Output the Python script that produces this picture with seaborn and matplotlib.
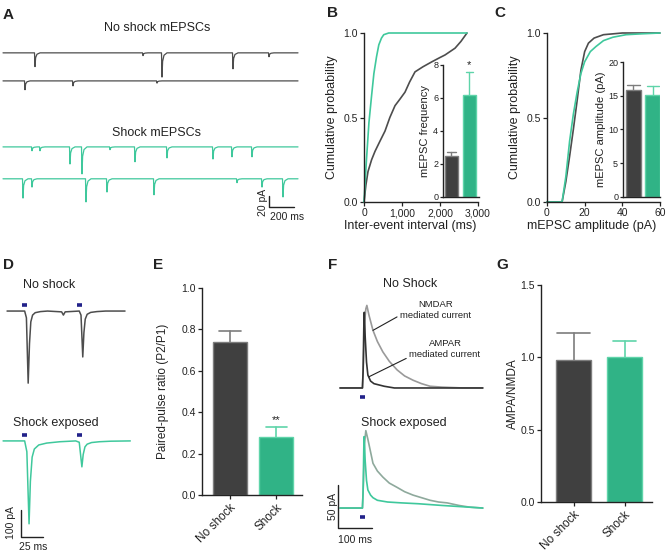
import numpy as np
import pandas as pd
import seaborn as sns
import matplotlib.pyplot as plt

W, H = 666, 555

# ---------------- data ----------------
# A: mEPSC events, time (ms) and amplitude (pA) per sweep
ns1_t = [256, 1120, 1272, 1840, 2128]
ns1_amp = [25, 5, 44, 29, 7]
ns2_t = [176, 560, 1232]
ns2_amp = [16, 9, 4]
sh1_t = [232, 296, 536, 632, 856, 1056, 1312, 1680, 1832, 1992]
sh1_amp = [7, 7, 31, 49, 5, 27, 20, 22, 18, 18]
sh2_t = [160, 232, 664, 832, 1208, 1872, 2072, 2240]
sh2_amp = [35, 15, 42, 24, 29, 7, 15, 33]
sweep_ms = 2360
# event waveform (ms offset, fraction of peak)
kern_t = [-4, 0, 5, 16, 40]
kern_f = [0, 1, 0.35, 0.1, 0]

# B: cumulative inter-event interval
iei_ns_ms = [0, 50, 105, 200, 290, 420, 553, 680, 816, 950, 1079, 1200, 1342,
             1550, 1789, 2000, 2132, 2395, 2550, 2710]
iei_ns_p = [0, 0.1, 0.18, 0.25, 0.3, 0.36, 0.42, 0.5, 0.57, 0.61, 0.65, 0.71,
            0.77, 0.8, 0.83, 0.855, 0.87, 0.91, 0.95, 1.0]
iei_sh_ms = [0, 65, 130, 200, 260, 330, 390, 460, 520, 650, 2710]
iei_sh_p = [0, 0.25, 0.47, 0.63, 0.76, 0.86, 0.93, 0.97, 0.99, 1.0, 1.0]
freq_mean = [2.5, 6.2]
freq_err = [0.25, 1.4]

# C: cumulative amplitude
amp_ns_pa = [0, 8, 10, 12, 14, 16, 18, 20, 22, 25, 30, 40, 60]
amp_ns_p = [0, 0, 0.12, 0.27, 0.43, 0.6, 0.78, 0.89, 0.94, 0.97, 0.99, 1.0, 1.0]
amp_sh_pa = [0, 8, 10, 12, 14, 16, 18, 20, 23, 26, 30, 35, 42, 50, 60]
amp_sh_p = [0, 0, 0.15, 0.36, 0.52, 0.65, 0.76, 0.83, 0.89, 0.92, 0.955,
            0.975, 0.99, 0.995, 1.0]
amp_mean = [15.8, 15.1]
amp_err = [0.8, 1.3]

# D: paired-pulse traces (ms, pA)
pp_ns_t = [0, 20, 22, 24, 25.5, 27, 29, 32, 38, 46, 62, 64, 66, 82,
           84, 86, 87.3, 88.8, 91, 95, 102, 112, 134]
pp_ns_i = [0, 0, -25, -267, -120, -40, -15, -6, -2, 0, -3, -15, -3, 0,
           -15, -170, -80, -30, -12, -5, -2, 0, 0]
pp_sh_t = [-4.5, 20, 22.5, 25, 26.5, 28.5, 31, 36, 45, 60, 78, 82, 85,
           86.5, 88.5, 91, 96, 105, 118, 140]
pp_sh_i = [0, 0, -40, -307, -150, -60, -30, -15, -8, -3, 0, -5,
           -96, -50, -22, -12, -6, -3, -1, 0]
pp_stim_on = [17, 80]
pp_stim_off = [23, 85]

# E: paired-pulse ratio
groups = ["No shock", "Shock"]
ppr_mean = [0.74, 0.28]
ppr_err = [0.05, 0.05]

# F: AMPAR / NMDAR currents (ms, pA)
nmda_ns_t = [0, 66, 69, 72, 76, 79, 85, 97, 110, 126, 145, 168, 190, 215, 240,
             265, 300, 362, 420]
nmda_ns_i = [0, 0, 30, 75, 92, 96, 85, 67, 54, 42, 31, 21, 14, 9, 5, 2, 1, 0, 0]
ampa_ns_t = [0, 66, 68, 70, 71.5, 74, 78, 82, 90, 100, 130, 160, 420]
ampa_ns_i = [0, 0, 20, 70, 88, 60, 30, 15, 8, 5, 2, 0, 0]
nmda_sh_t = [0, 66, 69, 72, 76, 82, 97, 110, 126, 145, 168, 190, 215, 240, 265,
             290, 315, 350, 382, 420]
nmda_sh_i = [0, 0, 30, 75, 90, 80, 52, 43, 36, 29, 24, 19, 15, 12, 9, 7, 6, 3,
             1, 0]
ampa_sh_t = [0, 66, 68, 70, 71, 74, 78, 82, 90, 97, 110, 140, 180, 230, 300,
             380, 420]
ampa_sh_i = [0, 0, 20, 70, 83, 55, 32, 21, 15, 12, 9, 7, 6, 5, 3, 1, 0]
f_stim = [59, 74]

# G: AMPA/NMDA ratio
an_mean = [0.98, 1.0]
an_err = [0.19, 0.11]

# ---------------- style ----------------
DARK = "#404040"
DARK_EDGE = "#7d7d7d"
GREEN = "#30b386"
GREEN_EDGE = "#5fd4a9"
TRACE_GRAY = "#4d4d4d"
TRACE_GREEN = "#3fc89c"
NMDA_GRAY = "#9a9a9a"
NMDA_SHOCK = "#8ea99c"
STIM = "#22228a"
INK = "#222222"

sns.set_theme(style="ticks")
plt.rcParams["font.family"] = ["Liberation Sans", "DejaVu Sans"]
plt.rcParams["axes.labelcolor"] = INK
plt.rcParams["xtick.color"] = INK
plt.rcParams["ytick.color"] = INK

fig = plt.figure(figsize=(W / 100, H / 100), dpi=100)


def px_box(l, t, r, b):
    return [l / W, 1 - b / H, (r - l) / W, (b - t) / H]


def ftext(x, y, s, **kw):
    kw.setdefault("color", INK)
    fig.text(x / W, 1 - y / H, s, **kw)


def style(ax, fs=7.5, pad=1.5, length=3):
    sns.despine(ax=ax)
    ax.tick_params(labelsize=fs, length=length, width=0.9, pad=pad)
    for s in ["left", "bottom"]:
        ax.spines[s].set_linewidth(1.0)
        ax.spines[s].set_color(INK)


def line(ax, x, y, color, lw=1.0):
    sns.lineplot(x=x, y=y, ax=ax, color=color, lw=lw, estimator=None,
                 sort=False)


def sweep(times, amps, dur):
    xs, ys = [0], [0]
    for t, a in zip(times, amps):
        for kt, kf in zip(kern_t, kern_f):
            xs.append(t + kt)
            ys.append(-a * kf)
    xs.append(dur)
    ys.append(0)
    return np.array(xs), np.array(ys)


def bars(ax, vals, errs, width, capfrac, lw=1.2):
    df = pd.DataFrame({"group": groups, "value": vals})
    sns.barplot(data=df, x="group", y="value", hue="group",
                palette=[DARK, GREEN], width=width, saturation=1,
                errorbar=None, legend=False, ax=ax)
    edges = [DARK_EDGE, GREEN_EDGE]
    for p, ec in zip(ax.patches, edges):
        p.set_edgecolor(ec)
        p.set_linewidth(1.0)
    for i, (v, e) in enumerate(zip(vals, errs)):
        c = width * capfrac[i] / 2
        ax.plot([i, i], [v, v + e], color=edges[i], lw=lw, zorder=1)
        ax.plot([i - c, i + c], [v + e, v + e], color=edges[i], lw=lw)
    ax.set_xlabel("")


# ---------------- A ----------------
axA = fig.add_axes(px_box(0, 38, 300, 225))
axA.set_xlim(-24, 2376)
axA.set_ylim(0, (225 - 38) / 0.55)
axA.set_axis_off()
a_offsets = [313, 262, 142, 84]
for (t, a), off, col in zip([(ns1_t, ns1_amp), (ns2_t, ns2_amp),
                             (sh1_t, sh1_amp), (sh2_t, sh2_amp)],
                            a_offsets,
                            [TRACE_GRAY, TRACE_GRAY, TRACE_GREEN, TRACE_GREEN]):
    xs, ys = sweep(t, a, sweep_ms)
    line(axA, xs, ys + off, col, lw=0.9)
axA.plot([2128, 2128, 2328], [52.7, 32.7, 32.7], color=INK, lw=1.0)
ftext(157, 28, "No shock mEPSCs", ha="center", va="center", fontsize=9)
ftext(157, 133, "Shock mEPSCs", ha="center", va="center", fontsize=9)
ftext(263, 202, "20 pA", ha="center", va="center", rotation=90, fontsize=7.5)
ftext(287, 217, "200 ms", ha="center", va="center", fontsize=7.5)

# ---------------- B ----------------
axB = fig.add_axes(px_box(364, 33, 478, 202))
line(axB, iei_ns_ms, iei_ns_p, TRACE_GRAY, lw=1.2)
line(axB, iei_sh_ms, iei_sh_p, TRACE_GREEN, lw=1.2)
axB.set_xlim(0, 3000)
axB.set_ylim(0, 1.0)
axB.set_xticks([0, 1000, 2000, 3000], ["0", "1,000", "2,000", "3,000"])
axB.set_yticks([0, 0.5, 1.0], ["0.0", "0.5", "1.0"])
axB.set_xlabel("Inter-event interval (ms)", fontsize=9)
axB.xaxis.set_label_coords((410 - 364) / 114, -18 / 169)
axB.set_ylabel("Cumulative probability", fontsize=9)
axB.yaxis.set_label_coords(-26 / 114, 0.5)
style(axB)
for ln in axB.lines:
    ln.set_clip_on(False)

axBi = fig.add_axes(px_box(443, 65, 479, 197))
axBi.set_facecolor("none")
bars(axBi, freq_mean, freq_err, 0.72, [0.65, 0.6], lw=1.0)
axBi.set_xlim(-0.47, 1.53)
axBi.set_ylim(0, 8)
axBi.set_yticks([0, 2, 4, 6, 8])
axBi.set_xticks([])
axBi.set_ylabel("mEPSC frequency", fontsize=8)
axBi.yaxis.set_label_coords(-13 / 36, 0.5)
style(axBi, fs=6.5, pad=1, length=2.5)
axBi.text(1, freq_mean[1] + freq_err[1] + 0.1, "*", ha="center", va="bottom",
          fontsize=8, color=INK)

# ---------------- C ----------------
axC = fig.add_axes(px_box(547, 33, 660, 202))
line(axC, amp_ns_pa, amp_ns_p, TRACE_GRAY, lw=1.2)
line(axC, amp_sh_pa, amp_sh_p, TRACE_GREEN, lw=1.2)
axC.set_xlim(0, 60)
axC.set_ylim(0, 1.0)
axC.set_xticks([0, 20, 40, 60])
axC.set_yticks([0, 0.5, 1.0], ["0.0", "0.5", "1.0"])
axC.set_xlabel("mEPSC amplitude (pA)", fontsize=9)
axC.xaxis.set_label_coords((592 - 547) / 113, -18 / 169)
axC.set_ylabel("Cumulative probability", fontsize=9)
axC.yaxis.set_label_coords(-26 / 113, 0.5)
style(axC)
for ln in axC.lines:
    ln.set_clip_on(False)

axCi = fig.add_axes(px_box(623, 62, 660, 197))
axCi.set_facecolor("none")
bars(axCi, amp_mean, amp_err, 0.79, [0.8, 0.8], lw=1.0)
axCi.set_xlim(-0.55, 1.39)
axCi.set_ylim(0, 20)
axCi.set_yticks([0, 5, 10, 15, 20])
axCi.set_xticks([])
axCi.set_ylabel("mEPSC amplitude (pA)", fontsize=8)
axCi.yaxis.set_label_coords(-17 / 37, 0.5)
style(axCi, fs=6.5, pad=1, length=2.5)

# ---------------- D ----------------
axD = fig.add_axes(px_box(0, 280, 140, 550))
axD.set_xlim(-8, 151)
axD.set_ylim(0, 270 / 0.27)
axD.set_axis_off()
d_offsets = [885, 404]
line(axD, pp_ns_t, np.array(pp_ns_i) + d_offsets[0], TRACE_GRAY, lw=1.1)
line(axD, pp_sh_t, np.array(pp_sh_i) + d_offsets[1], TRACE_GREEN, lw=1.1)
for off in d_offsets:
    for t0, t1 in zip(pp_stim_on, pp_stim_off):
        axD.plot([t0, t1], [off + 21, off + 21], color=STIM, lw=2.6,
                 solid_capstyle="butt")
axD.plot([16, 16, 41], [148, 48, 48], color=INK, lw=1.0)
ftext(23, 285, "No shock", ha="left", va="center", fontsize=9)
ftext(13, 423, "Shock exposed", ha="left", va="center", fontsize=9)
ftext(11, 523, "100 pA", ha="center", va="center", rotation=90, fontsize=7.5)
ftext(33, 547, "25 ms", ha="center", va="center", fontsize=7.5)

# ---------------- E ----------------
axE = fig.add_axes(px_box(202, 288, 302, 495))
bars(axE, ppr_mean, ppr_err, 0.73, [0.65, 0.6])
axE.set_xlim(-0.6, 1.55)
axE.set_ylim(0, 1.0)
axE.set_yticks([0, 0.2, 0.4, 0.6, 0.8, 1.0],
               ["0.0", "0.2", "0.4", "0.6", "0.8", "1.0"])
axE.set_ylabel("Paired-pulse ratio (P2/P1)", fontsize=8.5)
axE.yaxis.set_label_coords(-33 / 100, 0.5)
style(axE)
axE.set_xticks([0, 1], groups, rotation=45, ha="right",
               rotation_mode="anchor", fontsize=8.5)
axE.text(1, ppr_mean[1] + ppr_err[1] + 0.01, "**", ha="center", va="bottom",
         fontsize=8, color=INK)

# ---------------- F ----------------
axF = fig.add_axes(px_box(330, 290, 490, 550))
axF.set_xlim((330 - 340) / 0.34, (490 - 340) / 0.34)
axF.set_ylim(0, 260 / 0.86)
axF.set_axis_off()
f_offsets = [188.4, 48.8]
line(axF, nmda_ns_t, np.array(nmda_ns_i) + f_offsets[0], NMDA_GRAY, lw=1.2)
line(axF, ampa_ns_t, np.array(ampa_ns_i) + f_offsets[0], "#333333", lw=1.2)
line(axF, nmda_sh_t, np.array(nmda_sh_i) + f_offsets[1], NMDA_SHOCK, lw=1.2)
line(axF, ampa_sh_t, np.array(ampa_sh_i) + f_offsets[1], TRACE_GREEN, lw=1.2)
for off in f_offsets:
    axF.plot(f_stim, [off - 10.5, off - 10.5], color=STIM, lw=2.6,
             solid_capstyle="butt")
axF.plot([-5.9, -5.9, 94.1], [75.6, 25.6, 25.6], color=INK, lw=1.0)
axF.annotate("NMDAR\nmediated current", xy=(97, f_offsets[0] + 67),
             xytext=(282, 279), ha="center", va="center", fontsize=6.8,
             color=INK, linespacing=1.3,
             arrowprops=dict(arrowstyle="-", color=INK, lw=0.8,
                             shrinkA=0, shrinkB=0, relpos=(0, 0.25)))
axF.annotate("AMPAR\nmediated current", xy=(85, f_offsets[0] + 13),
             xytext=(309, 234), ha="center", va="center", fontsize=6.8,
             color=INK, linespacing=1.3,
             arrowprops=dict(arrowstyle="-", color=INK, lw=0.8,
                             shrinkA=0, shrinkB=0, relpos=(0, 0.1)))
ftext(410, 284, "No Shock", ha="center", va="center", fontsize=9)
ftext(404, 423, "Shock exposed", ha="center", va="center", fontsize=9)
ftext(333, 506, "50 pA", ha="center", va="center", rotation=90, fontsize=7.5)
ftext(355, 540, "100 ms", ha="center", va="center", fontsize=7.5)

# ---------------- G ----------------
axG = fig.add_axes(px_box(541, 285, 652, 502))
bars(axG, an_mean, an_err, 0.69, [0.95, 0.65])
axG.set_xlim(-0.64, 1.54)
axG.set_ylim(0, 1.5)
axG.set_yticks([0, 0.5, 1.0, 1.5], ["0.0", "0.5", "1.0", "1.5"])
axG.set_ylabel("AMPA/NMDA", fontsize=8.5)
axG.yaxis.set_label_coords(-22 / 111, 0.5)
style(axG)
axG.set_xticks([0, 1], groups, rotation=45, ha="right",
               rotation_mode="anchor", fontsize=8.5)

# panel letters
for s, x, y in [("A", 8, 15), ("B", 333, 13), ("C", 500, 13), ("D", 8, 265),
                ("E", 158, 265), ("F", 333, 265), ("G", 502, 265)]:
    ftext(x, y, s, ha="center", va="center", fontsize=11, fontweight="bold")

fig.savefig("out.png", dpi=100)
